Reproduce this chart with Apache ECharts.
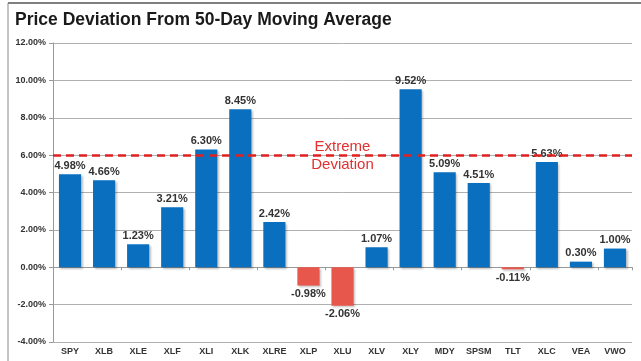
<!DOCTYPE html>
<html>
<head>
<meta charset="utf-8">
<script src="https://cdn.jsdelivr.net/npm/echarts@6/dist/echarts.min.js"></script>
<style>
html,body{margin:0;padding:0;background:#fff;}
#c{width:641px;height:361px;}
</style>
</head>
<body>
<div id="c"></div>
<script>
const categories = ['SPY','XLB','XLE','XLF','XLI','XLK','XLRE','XLP','XLU','XLV','XLY','MDY','SPSM','TLT','XLC','VEA','VWO'];
const deviations = [4.98,4.66,1.23,3.21,6.30,8.45,2.42,-0.98,-2.06,1.07,9.52,5.09,4.51,-0.11,5.63,0.30,1.00];
const extremeLevel = 6;
const yTicks = {min:-4, max:12, interval:2};

const chart = echarts.init(document.getElementById('c'), null, {renderer:'canvas'});
const fontFam = '"Liberation Sans", Arial, sans-serif';

const barData = deviations.map(v => ({
  value: v,
  itemStyle: {color: v < 0 ? '#E8574C' : '#0A6FBF'},
  label: {position: v < 0 ? 'bottom' : 'top'}
}));

chart.setOption({
  animation: false,
  title: {
    text: 'Price Deviation From 50-Day Moving Average',
    left: 10, top: 6,
    textStyle: {fontFamily: fontFam, fontSize: 17.5, fontWeight: 'bold', color: '#1a1a1a'}
  },
  graphic: [
    {type:'line', shape:{x1:8,y1:3,x2:641,y2:3}, style:{stroke:'#555', lineWidth:1.5}},
    {type:'line', shape:{x1:8,y1:3,x2:8,y2:361}, style:{stroke:'#888', lineWidth:1}}
  ],
  grid: {left: 53, right: 9, top: 43, bottom: 19},
  xAxis: [
    {
      type: 'category', data: categories, position: 'bottom',
      axisLine: {show: false, onZero: false}, axisTick: {show: false},
      axisLabel: {fontFamily: fontFam, fontSize: 9, fontWeight: 'bold', color: '#333', margin: 5, interval: 0}
    },
    {
      type: 'category', data: categories, position: 'bottom',
      axisLine: {show: true, onZero: true, lineStyle: {color: '#999', width: 1}},
      axisTick: {show: true, length: 3, lineStyle: {color: '#999'}},
      axisLabel: {show: false}
    }
  ],
  yAxis: {
    type: 'value', min: yTicks.min, max: yTicks.max, interval: yTicks.interval,
    axisLine: {show: true, lineStyle: {color: '#999'}},
    axisTick: {show: true, length: 4, lineStyle: {color: '#999'}},
    splitLine: {lineStyle: {color: '#b0b0b0', width: 1}},
    axisLabel: {
      fontFamily: fontFam, fontSize: 9, fontWeight: 'bold', color: '#333', margin: 7,
      formatter: v => v.toFixed(2) + '%'
    }
  },
  series: [{
    type: 'bar', xAxisIndex: 0, data: barData, barWidth: '65%',
    itemStyle: {shadowColor: 'rgba(0,0,0,0.25)', shadowBlur: 2, shadowOffsetX: 1.5, shadowOffsetY: 1.5},
    label: {
      show: true, fontFamily: fontFam, fontSize: 11, fontWeight: 'bold', color: '#333', distance: 3,
      formatter: p => p.value.toFixed(2) + '%'
    },
    markLine: {
      silent: true, symbol: 'none',
      lineStyle: {color: '#E02020', type: [8, 5], width: 2.5},
      label: {
        show: true, position: 'middle', formatter: 'Extreme\nDeviation',
        fontFamily: fontFam, fontSize: 15, color: '#E03030', lineHeight: 18, distance: -19
      },
      data: [{yAxis: extremeLevel}]
    }
  }]
});
</script>
</body>
</html>
